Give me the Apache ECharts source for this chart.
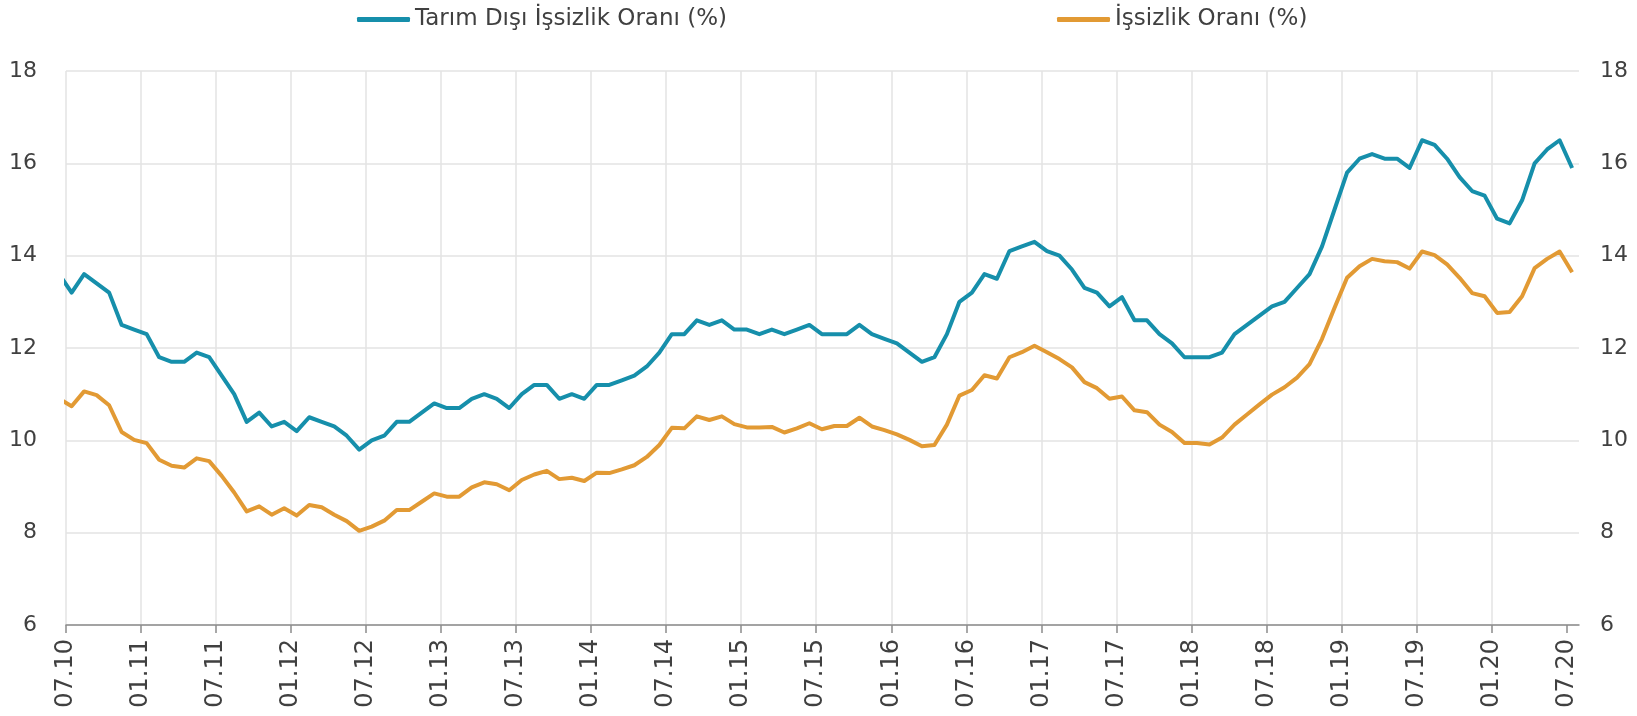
<!DOCTYPE html>
<html>
<head>
<meta charset="utf-8">
<script src="https://cdn.jsdelivr.net/npm/echarts@6/dist/echarts.min.js"></script>
<style>
html,body{margin:0;padding:0;background:#fff;}
#chart{width:1637px;height:716px;}
</style>
</head>
<body>
<div id="chart"></div>
<script>
// Monthly observations, first one (06.10) lies just left of the axis start and is clipped
const firstMonth = { year: 2010, month: 6 };
const tickLabels = ['07.10','01.11','07.11','01.12','07.12','01.13','07.13','01.14','07.14','01.15',
  '07.15','01.16','07.16','01.17','07.17','01.18','07.18','01.19','07.19','01.20','07.20'];
const seriesNames = ['Tarım Dışı İşsizlik Oranı (%)', 'İşsizlik Oranı (%)'];

const nonAgri = [13.6,
  13.2,13.6,13.4,13.2,12.5,12.4,12.3,11.8,11.7,11.7,11.9,11.8,
  11.4,11.0,10.4,10.6,10.3,10.4,10.2,10.5,10.4,10.3,10.1,9.8,
  10.0,10.1,10.4,10.4,10.6,10.8,10.7,10.7,10.9,11.0,10.9,10.7,
  11.0,11.2,11.2,10.9,11.0,10.9,11.2,11.2,11.3,11.4,11.6,11.9,
  12.3,12.3,12.6,12.5,12.6,12.4,12.4,12.3,12.4,12.3,12.4,12.5,
  12.3,12.3,12.3,12.5,12.3,12.2,12.1,11.9,11.7,11.8,12.3,13.0,
  13.2,13.6,13.5,14.1,14.2,14.3,14.1,14.0,13.7,13.3,13.2,12.9,
  13.1,12.6,12.6,12.3,12.1,11.8,11.8,11.8,11.9,12.3,12.5,12.7,
  12.9,13.0,13.3,13.6,14.2,15.0,15.8,16.1,16.2,16.1,16.1,15.9,
  16.5,16.4,16.1,15.7,15.4,15.3,14.8,14.7,15.2,16.0,16.3,16.5,
  15.9];
const total = [10.90,
  10.74,11.06,10.98,10.76,10.18,10.01,9.94,9.58,9.45,9.41,9.61,9.55,
  9.23,8.87,8.46,8.57,8.39,8.53,8.37,8.60,8.55,8.39,8.25,8.04,
  8.13,8.26,8.49,8.49,8.67,8.85,8.78,8.78,8.98,9.09,9.05,8.92,
  9.14,9.26,9.34,9.16,9.19,9.12,9.30,9.29,9.37,9.46,9.64,9.90,
  10.27,10.26,10.52,10.44,10.52,10.35,10.28,10.28,10.29,10.17,10.26,10.37,
  10.24,10.31,10.31,10.49,10.30,10.22,10.13,10.01,9.87,9.90,10.34,10.97,
  11.09,11.41,11.34,11.80,11.91,12.05,11.91,11.76,11.58,11.26,11.13,10.90,
  10.95,10.65,10.61,10.34,10.18,9.94,9.94,9.91,10.06,10.34,10.56,10.78,
  10.99,11.15,11.36,11.65,12.20,12.87,13.52,13.77,13.93,13.88,13.86,13.72,
  14.09,14.01,13.81,13.52,13.19,13.12,12.76,12.78,13.12,13.73,13.93,14.09,
  13.64];

// month labels for each observation
const months = nonAgri.map((_, i) => {
  const m0 = firstMonth.month - 1 + i;
  const y = firstMonth.year + Math.floor(m0 / 12);
  const m = (m0 % 12) + 1;
  return String(m).padStart(2, '0') + '.' + String(y % 100).padStart(2, '0');
});
// x position in months from the 07.10 tick; observations sit mid-month
const axisStart = months.indexOf('07.10');
const xPos = months.map((_, i) => i - axisStart + 0.45);
const tickValues = tickLabels.map(l => months.indexOf(l) - axisStart);

const font = 'DejaVu Sans';
const textColor = '#404040';
const chart = echarts.init(document.getElementById('chart'), null, { renderer: 'canvas' });
chart.setOption({
  animation: false,
  backgroundColor: '#ffffff',
  textStyle: { fontFamily: font },
  legend: [
    { data: [seriesNames[0]], left: 352, top: 3, icon: 'roundRect', itemWidth: 53, itemHeight: 5,
      itemGap: 6, textStyle: { fontFamily: font, fontSize: 23, color: textColor } },
    { data: [seriesNames[1]], left: 1052, top: 3, icon: 'roundRect', itemWidth: 53, itemHeight: 5,
      itemGap: 6, textStyle: { fontFamily: font, fontSize: 23, color: textColor } }
  ],
  grid: { left: 66, right: 58, top: 71, bottom: 91, containLabel: false },
  xAxis: {
    type: 'value', min: 0, max: tickValues[tickValues.length - 1] + 1, interval: 6,
    axisLine: { show: true, onZero: false, lineStyle: { color: '#8c8c8c', width: 1.5 } },
    axisTick: { show: true, length: 8, customValues: tickValues, lineStyle: { color: '#8c8c8c', width: 1.5 } },
    axisLabel: {
      customValues: tickValues, rotate: 90, margin: 14,
      fontFamily: font, fontSize: 24, color: textColor,
      formatter: v => tickLabels[tickValues.indexOf(v)] || ''
    },
    splitLine: { show: true, showMaxLine: false, lineStyle: { color: '#e3e3e3', width: 1.5 } }
  },
  yAxis: [
    { type: 'value', position: 'left', min: 6, max: 18, interval: 2,
      axisLine: { show: false }, axisTick: { show: false },
      axisLabel: { margin: 29, fontFamily: font, fontSize: 22, color: textColor },
      splitLine: { show: true, lineStyle: { color: '#e3e3e3', width: 1.5 } } },
    { type: 'value', position: 'right', min: 6, max: 18, interval: 2,
      axisLine: { show: false }, axisTick: { show: false },
      axisLabel: { margin: 21, fontFamily: font, fontSize: 22, color: textColor },
      splitLine: { show: false } }
  ],
  series: [
    { name: seriesNames[0], type: 'line', yAxisIndex: 0, symbol: 'none', clip: true,
      data: nonAgri.map((v, i) => [xPos[i], v]),
      lineStyle: { color: '#168fab', width: 4, join: 'round' }, itemStyle: { color: '#168fab' } },
    { name: seriesNames[1], type: 'line', yAxisIndex: 1, symbol: 'none', clip: true,
      data: total.map((v, i) => [xPos[i], v]),
      lineStyle: { color: '#e29a34', width: 4, join: 'round' }, itemStyle: { color: '#e29a34' } }
  ]
});
</script>
</body>
</html>
